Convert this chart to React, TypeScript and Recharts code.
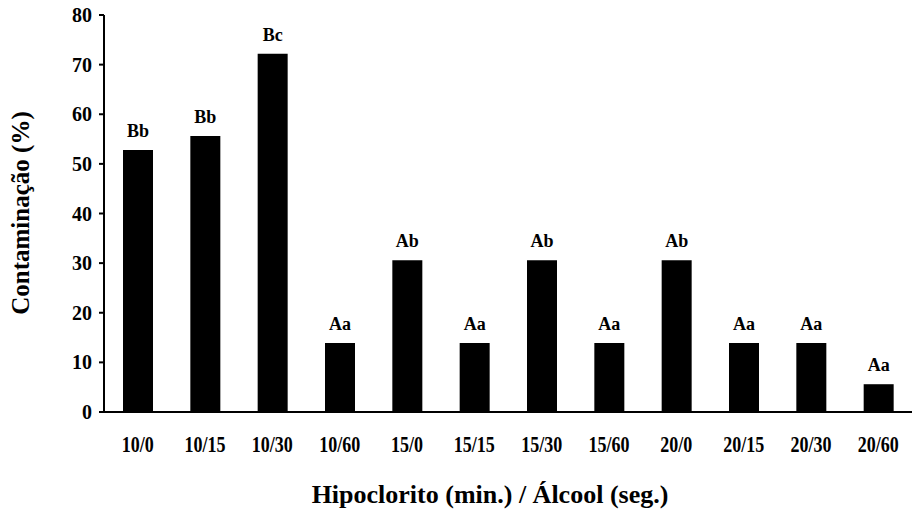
import React from 'react';
import { BarChart, Bar, XAxis, YAxis, LabelList } from 'recharts';

// Treatment combinations: hypochlorite minutes / alcohol seconds
const categories = ['10/0', '10/15', '10/30', '10/60', '15/0', '15/15', '15/30', '15/60', '20/0', '20/15', '20/30', '20/60'];
const contamination = [52.8, 55.6, 72.2, 13.9, 30.6, 13.9, 30.6, 13.9, 30.6, 13.9, 13.9, 5.6];
const groups = ['Bb', 'Bb', 'Bc', 'Aa', 'Ab', 'Aa', 'Ab', 'Aa', 'Ab', 'Aa', 'Aa', 'Aa'];
const yTicks = [0, 10, 20, 30, 40, 50, 60, 70, 80];
const boundaryTicks = [0, 1, 2, 3, 4, 5, 6, 7, 8, 9, 10, 11, 12];

const data = categories.map((c, i) => ({ name: c, value: contamination[i], group: groups[i], pos: i + 0.5 }));

const FONT = '"Liberation Serif", "Times New Roman", serif';

const XTick = (props: any) => {
  const { x, y, payload } = props;
  return (
    <g transform={`translate(${x},${y + 31}) scale(1,1.25)`}>
      <text x={0} y={0} textAnchor="middle" fontFamily={FONT} fontWeight="bold" fontSize={18} fill="#000">
        {payload.value}
      </text>
    </g>
  );
};

const YTick = (props: any) => {
  const { x, y, payload } = props;
  return (
    <text x={x - 5} y={y + 7} textAnchor="end" fontFamily={FONT} fontWeight="bold" fontSize={20} fill="#000">
      {payload.value}
    </text>
  );
};

export default function App() {
  return (
    <div style={{ position: 'absolute', left: 0, top: 0, width: 913, height: 512, background: '#fff' }}>
      <BarChart width={913} height={512} data={data} margin={{ top: 15, right: 1, left: 0, bottom: 0 }} barCategoryGap={0}>
        {/* axis line with tick marks at category boundaries */}
        <XAxis
          xAxisId="a_edge"
          dataKey="pos"
          type="number"
          domain={[0, 12]}
          ticks={boundaryTicks}
          interval={0}
          height={1}
          axisLine={{ stroke: '#000', strokeWidth: 2 }}
          tickLine={{ stroke: '#000', strokeWidth: 2 }}
          tickSize={5}
          tick={false}
        />
        <XAxis
          dataKey="name"
          xAxisId="b_cat"
          height={99}
          tickLine={false}
          axisLine={false}
          tick={<XTick />}
          interval={0}
        />
        <YAxis
          width={104}
          domain={[0, 80]}
          ticks={yTicks}
          interval={0}
          axisLine={{ stroke: '#000', strokeWidth: 2 }}
          tickLine={{ stroke: '#000', strokeWidth: 2 }}
          tickSize={5}
          tick={<YTick />}
        />
        <Bar dataKey="value" xAxisId="b_cat" fill="#000" barSize={30} isAnimationActive={false}>
          <LabelList dataKey="group" position="top" offset={13} fontFamily={FONT} fontWeight="bold" fontSize={18} fill="#000" />
        </Bar>
        <text x={490} y={503} textAnchor="middle" fontFamily={FONT} fontWeight="bold" fontSize={26} fill="#000">
          Hipoclorito (min.) / Álcool (seg.)
        </text>
        <text
          x={0}
          y={0}
          transform="translate(29,213) rotate(-90)"
          textAnchor="middle"
          fontFamily={FONT}
          fontWeight="bold"
          fontSize={25}
          fill="#000"
        >
          Contaminação (%)
        </text>
      </BarChart>
    </div>
  );
}
